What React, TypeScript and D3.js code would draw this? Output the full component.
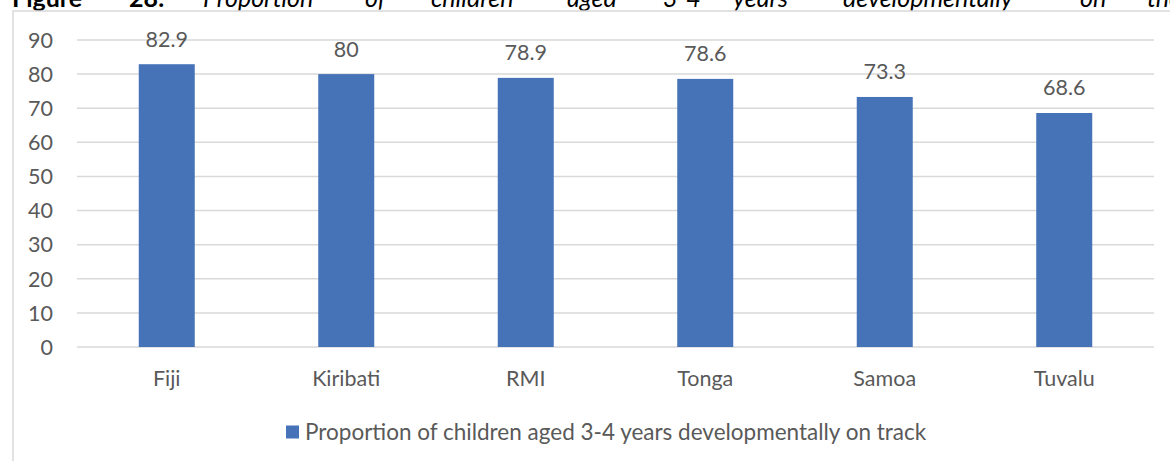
import * as d3 from 'd3';

// Excel-style column chart: share of children aged 3-4 developmentally on track.

const COUNTRIES = ['Fiji', 'Kiribati', 'RMI', 'Tonga', 'Samoa', 'Tuvalu'];
const ON_TRACK = [82.9, 80, 78.9, 78.6, 73.3, 68.6];
const Y_TICKS = [0, 10, 20, 30, 40, 50, 60, 70, 80, 90];
const LEGEND_LABEL = 'Proportion of children aged 3-4 years developmentally on track';

// caption line above the chart (justified in the source doc, top half cut off)
const CAPTION_WORDS = [
  { text: 'Figure', bold: true, x: 12 },
  { text: '28:', bold: true, x: 129 },
  { text: 'Proportion', bold: false, x: 203 },
  { text: 'of', bold: false, x: 365 },
  { text: 'children', bold: false, x: 431 },
  { text: 'aged', bold: false, x: 567 },
  { text: '3-4', bold: false, x: 663 },
  { text: 'years', bold: false, x: 733 },
  { text: 'developmentally', bold: false, x: 843 },
  { text: 'on', bold: false, x: 1080 },
  { text: 'the', bold: false, x: 1147 },
];

const WIDTH = 1170;
const HEIGHT = 461;
const BAR_COLOR = '#4672B8';
const GRID_COLOR = '#D9D9D9';
const TEXT_COLOR = '#595959';
const FONT = 'Lato, "Open Sans", sans-serif';
const FONT_SIZE = 21.5;

const PLOT = { left: 77, right: 1154, top: 40, bottom: 347 };

export default function App() {
  const x = d3.scaleBand<string>()
    .domain(COUNTRIES)
    .range([PLOT.left, PLOT.right])
    .paddingInner(0.688)
    .paddingOuter(0.344);

  const y = d3.scaleLinear()
    .domain([0, 90])
    .range([PLOT.bottom, PLOT.top]);

  return (
    <svg
      width={WIDTH}
      height={HEIGHT}
      style={{ position: 'absolute', left: 0, top: 0, background: '#fff' }}
      fontFamily={FONT}
    >
      {/* caption */}
      <g fontSize={25} fill="#000">
        {CAPTION_WORDS.map((w) => (
          <text
            key={w.text}
            x={w.x}
            y={7}
            fontWeight={w.bold ? 700 : 400}
            fontStyle={w.bold ? 'normal' : 'italic'}
          >
            {w.text}
          </text>
        ))}
      </g>

      {/* chart area border */}
      <rect x={13} y={11} width={WIDTH + 20} height={HEIGHT + 20} fill="none" stroke={GRID_COLOR} strokeWidth={1.5} />

      {/* gridlines + y tick labels */}
      {Y_TICKS.map((t) => (
        <g key={t}>
          <line x1={PLOT.left} x2={PLOT.right} y1={y(t)} y2={y(t)} stroke={GRID_COLOR} strokeWidth={1.5} />
          <text
            x={53}
            y={y(t)}
            dy="0.36em"
            textAnchor="end"
            fontSize={FONT_SIZE}
            fill={TEXT_COLOR}
          >
            {t}
          </text>
        </g>
      ))}

      {/* bars + value labels */}
      {COUNTRIES.map((c, i) => {
        const v = ON_TRACK[i];
        const bx = x(c) ?? 0;
        const cx = bx + x.bandwidth() / 2;
        return (
          <g key={c}>
            <rect x={bx} y={y(v)} width={x.bandwidth()} height={y(0) - y(v)} fill={BAR_COLOR} />
            <text x={cx} y={y(v) - 17.5} textAnchor="middle" fontSize={FONT_SIZE} fill={TEXT_COLOR}>
              {String(v)}
            </text>
            <text x={cx} y={y(0) + 39} textAnchor="middle" fontSize={FONT_SIZE} fill={TEXT_COLOR}>
              {c}
            </text>
          </g>
        );
      })}

      {/* legend */}
      <g transform="translate(286, 432)">
        <rect x={0} y={-6.5} width={13} height={13} fill={BAR_COLOR} />
        <text x={19} y={0} dy="0.36em" fontSize={22.5} fill={TEXT_COLOR}>
          {LEGEND_LABEL}
        </text>
      </g>
    </svg>
  );
}
